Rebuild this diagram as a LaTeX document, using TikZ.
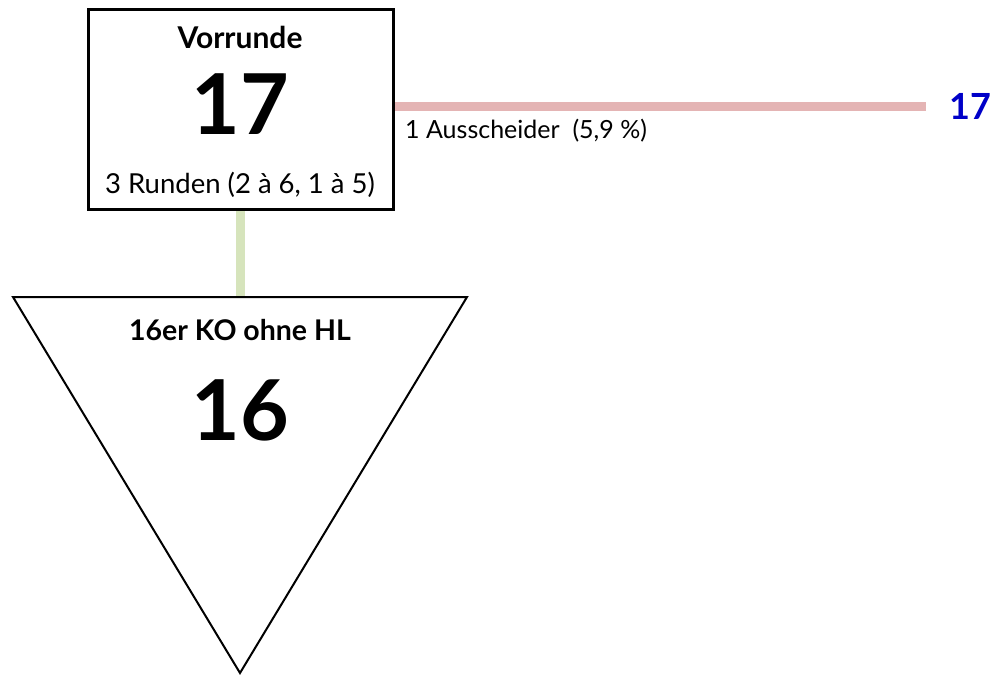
\documentclass[tikz,border=0pt]{standalone}
\usepackage{fontspec}
\setmainfont{Lato}
\definecolor{redline}{RGB}{228,180,180}
\definecolor{greenline}{RGB}{214,228,188}
\definecolor{blueno}{RGB}{0,0,200}
\begin{document}
\begin{tikzpicture}[x=1pt,y=-1pt,
  lbl/.style={inner sep=0pt,anchor=center},
  frame/.style={draw=black,line width=3pt}]
\useasboundingbox (0,0) rectangle (996,675);
\coordinate (boxR) at (393,106);
\coordinate (redEnd) at (926,106);
\draw[redline,line width=9pt] (boxR) -- (redEnd);
\coordinate (boxB) at (240,209);
\coordinate (triT) at (240,297);
\draw[greenline,line width=9pt] (boxB) -- (triT);
\node[frame,minimum width=305pt,minimum height=200pt,inner sep=0pt] (box) at (240.5,109) {};
\node[lbl,font=\bfseries\fontsize{30}{34}\selectfont] (vr) at (240,37) {Vorrunde};
\node[lbl,font=\bfseries\fontsize{84}{90}\selectfont] (n17) at (240,104) {17};
\node[lbl,font=\fontsize{27.5}{32}\selectfont] (rund) at (240,185) {3 Runden (2 à 6, 1 à 5)};
\draw[black,line width=2pt,line join=miter] (13,297) -- (467,297) -- (240,673) -- cycle;
\node[lbl,font=\bfseries\fontsize{28.5}{32}\selectfont] (ko) at (240,330) {16er KO ohne HL};
\node[lbl,font=\bfseries\fontsize{84}{90}\selectfont] (n16) at (240,410) {16};
\node[lbl,anchor=west,font=\fontsize{25}{29}\selectfont] (aus) at (405,131) {1 Ausscheider\ \ (5,9 \%)};
\node[lbl,font=\bfseries\fontsize{36}{40}\selectfont,text=blueno] (b17) at (970,106) {17};
\end{tikzpicture}
\end{document}
